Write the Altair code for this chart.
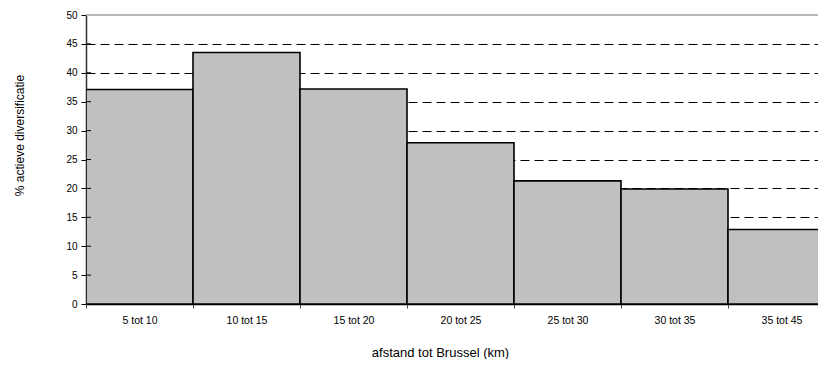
import altair as alt
import pandas as pd

categories = ["5 tot 10", "10 tot 15", "15 tot 20", "20 tot 25", "25 tot 30", "30 tot 35", "35 tot 45"]
values = [37.1, 43.5, 37.2, 27.9, 21.3, 19.9, 12.9]
y_ticks = [0, 5, 10, 15, 20, 25, 30, 35, 40, 45, 50]

df = pd.DataFrame({"afstand": categories, "pct": values})
ticks_df = pd.DataFrame({"pct": y_ticks[1:-1]})
top_df = pd.DataFrame({"pct": [y_ticks[-1]]})

FONT = "Liberation Sans"
PLOT_W = 732
PLOT_H = 289

y_scale = alt.Scale(domain=[0, 50], nice=False)

y_axis = alt.Axis(
    title="% actieve diversificatie",
    values=y_ticks,
    labelFontSize=10,
    labelFont=FONT,
    labelColor="black",
    labelPadding=4,
    tickColor="black",
    tickSize=5,
    domainColor="#303030",
    domainWidth=1.5,
    titleFont=FONT,
    titleFontSize=12,
    titleFontWeight="normal",
    titleColor="black",
    titleAngle=270,
    titleX=-67,
    titleY=120,
    titleAlign="center",
    titleBaseline="middle",
    grid=True,
    gridColor="black",
    gridDash=[9, 5],
    gridWidth=1,
    gridOpacity={"condition": {"test": "datum.value == 0 || datum.value == 50", "value": 0}, "value": 1},
)

bars = alt.Chart(df).mark_bar(
    color="#C0C0C0", stroke="black", strokeWidth=1.6, clip=True
).encode(
    x=alt.X(
        "afstand:N",
        sort=categories,
        scale=alt.Scale(paddingInner=0, paddingOuter=0, range=[0, 749]),
        axis=alt.Axis(
            title="afstand tot Brussel (km)",
            labelAngle=0,
            labelFontSize=10.5,
            labelFont=FONT,
            labelColor="black",
            labelPadding=7,
            tickBand="extent",
            tickColor="#505050",
            tickSize=4,
            domainColor="black",
            domainWidth=1.5,
            titleFont=FONT,
            titleFontSize=13,
            titleFontWeight="normal",
            titleColor="black",
            titleX=354,
            titleY=48,
            titleAlign="center",
            titleBaseline="middle",
            grid=False,
        ),
    ),
    y=alt.Y("pct:Q", scale=y_scale, axis=y_axis),
)

inner_ticks = alt.Chart(ticks_df).mark_rule(color="black", strokeWidth=1).encode(
    y=alt.Y("pct:Q", scale=y_scale, axis=y_axis),
    x=alt.value(0),
    x2=alt.value(5),
)

top_border = alt.Chart(top_df).mark_rule(color="#A0A0A0", strokeWidth=1.5).encode(
    y=alt.Y("pct:Q", scale=y_scale, axis=y_axis),
    x=alt.value(0),
    x2=alt.value(PLOT_W + 10),
)

chart = alt.layer(bars, top_border, inner_ticks).properties(
    width=PLOT_W,
    height=PLOT_H,
    autosize=alt.AutoSizeParams(type="none"),
    padding={"left": 78, "top": 7, "right": 0, "bottom": 55},
).configure_view(
    strokeWidth=0
)

chart.save("out.html", embed_options={"renderer": "svg", "actions": False})
